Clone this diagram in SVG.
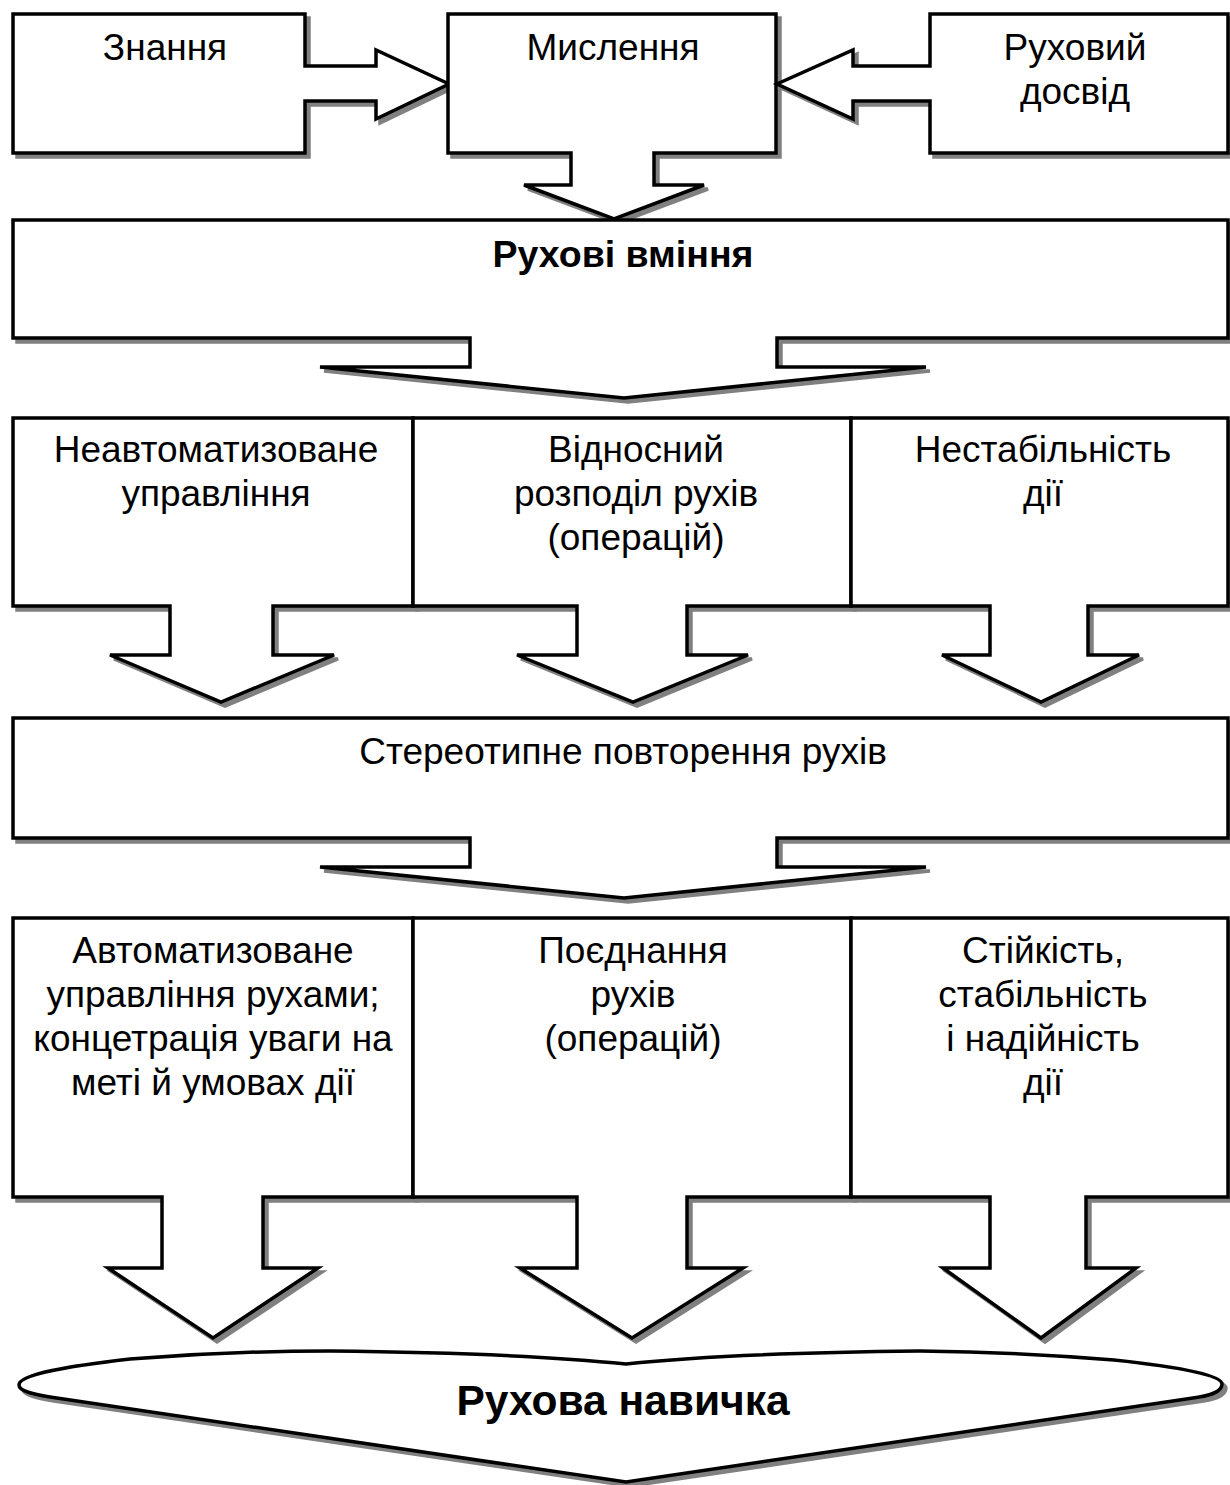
<svg xmlns="http://www.w3.org/2000/svg" width="1230" height="1485" viewBox="0 0 1230 1485">
  <defs>
    <style>
      .shape { fill: #ffffff; stroke: #000000; stroke-width: 3.5; stroke-linejoin: miter; }
      .shadow { fill: #808080; stroke: #808080; stroke-width: 3.5; }
      .t { font-family: "Liberation Sans", Arial, sans-serif; font-size: 37px; text-anchor: middle; fill: #000000; }
      .b { font-weight: bold; }
    </style>
    <!-- callout outlines, reused for shadow and face -->
    <path id="p-znannia" d="M13,14 H305 V66 H376 V50 L449,84 L376,119 V101 H305 V153 H13 Z"/>
    <path id="p-myslennia" d="M448,14 H776 V153 H654 V185 H704 L614,219 L524,185 H571 V153 H448 Z"/>
    <path id="p-dosvid" d="M930,14 H1228 V153 H930 V101 H853 V119 L777,84 L853,50 V66 H930 Z"/>
    <path id="p-vminnia" d="M13,220 H1228 V338 H777 V367 H926 L624,398 L320,367 H470 V338 H13 Z"/>
    <path id="p-r2a" d="M13,418 H413 V606 H273 V655 H334 L221,702 L110,655 H170 V606 H13 Z"/>
    <path id="p-r2b" d="M413,418 H851 V606 H687 V655 H748 L633,702 L517,655 H577 V606 H413 Z"/>
    <path id="p-r2c" d="M851,418 H1228 V606 H1088 V655 H1139 L1041,702 L942,655 H990 V606 H851 Z"/>
    <path id="p-stereo" d="M13,718 H1228 V838 H777 V867 H926 L624,898 L320,867 H470 V838 H13 Z"/>
    <path id="p-r4a" d="M13,918 H413 V1197 H263 V1268 H318 L213,1338 L108,1268 H162 V1197 H13 Z"/>
    <path id="p-r4b" d="M413,918 H851 V1197 H687 V1268 H743 L632,1338 L520,1268 H577 V1197 H413 Z"/>
    <path id="p-r4c" d="M851,918 H1228 V1197 H1086 V1268 H1136 L1041,1338 L943,1268 H990 V1197 H851 Z"/>
    <path id="p-navychka" d="M19,1385 C19,1374 70,1366 130,1359 Q230,1351 330,1351 Q520,1353 626,1364 Q730,1353 920,1351 Q1020,1352 1114,1360 C1180,1367 1222,1375 1222,1384 C1222,1393 1208,1396 1193,1398 L626,1482 L50,1397 C32,1394 19,1391 19,1385 Z"/>
  </defs>

  <g id="node-znannia">
    <use href="#p-znannia" class="shadow" transform="translate(4 4)"/>
    <use href="#p-znannia" class="shape"/>
    <text class="t" x="165" y="60">Знання</text>
  </g>

  <g id="node-myslennia">
    <use href="#p-myslennia" class="shadow" transform="translate(4 4)"/>
    <use href="#p-myslennia" class="shape"/>
    <text class="t" x="613" y="60">Мислення</text>
  </g>

  <g id="node-dosvid">
    <use href="#p-dosvid" class="shadow" transform="translate(4 4)"/>
    <use href="#p-dosvid" class="shape"/>
    <text class="t" x="1075" y="60">Руховий</text>
    <text class="t" x="1075" y="104">досвід</text>
  </g>

  <g id="node-vminnia">
    <use href="#p-vminnia" class="shadow" transform="translate(4 4)"/>
    <use href="#p-vminnia" class="shape"/>
    <text class="t b" x="623" y="267" style="font-size:37.5px">Рухові вміння</text>
  </g>

  <g id="node-neavtomat">
    <use href="#p-r2a" class="shadow" transform="translate(4 4)"/>
    <use href="#p-r2a" class="shape"/>
    <text class="t" x="216" y="462">Неавтоматизоване</text>
    <text class="t" x="216" y="506">управління</text>
  </g>

  <g id="node-rozpodil">
    <use href="#p-r2b" class="shadow" transform="translate(4 4)"/>
    <use href="#p-r2b" class="shape"/>
    <text class="t" x="636" y="462">Відносний</text>
    <text class="t" x="636" y="506">розподіл рухів</text>
    <text class="t" x="636" y="550">(операцій)</text>
  </g>

  <g id="node-nestabilnist">
    <use href="#p-r2c" class="shadow" transform="translate(4 4)"/>
    <use href="#p-r2c" class="shape"/>
    <text class="t" x="1043" y="462">Нестабільність</text>
    <text class="t" x="1043" y="506">дії</text>
  </g>

  <g id="node-stereotyp">
    <use href="#p-stereo" class="shadow" transform="translate(4 4)"/>
    <use href="#p-stereo" class="shape"/>
    <text class="t" x="623" y="764">Стереотипне повторення рухів</text>
  </g>

  <g id="node-avtomat">
    <use href="#p-r4a" class="shadow" transform="translate(4 4)"/>
    <use href="#p-r4a" class="shape"/>
    <text class="t" x="213" y="963">Автоматизоване</text>
    <text class="t" x="213" y="1007">управління рухами;</text>
    <text class="t" x="213" y="1051">концетрація уваги на</text>
    <text class="t" x="213" y="1095">меті й умовах дії</text>
  </g>

  <g id="node-poiednannia">
    <use href="#p-r4b" class="shadow" transform="translate(4 4)"/>
    <use href="#p-r4b" class="shape"/>
    <text class="t" x="633" y="963">Поєднання</text>
    <text class="t" x="633" y="1007">рухів</text>
    <text class="t" x="633" y="1051">(операцій)</text>
  </g>

  <g id="node-stiikist">
    <use href="#p-r4c" class="shadow" transform="translate(4 4)"/>
    <use href="#p-r4c" class="shape"/>
    <text class="t" x="1043" y="963">Стійкість,</text>
    <text class="t" x="1043" y="1007">стабільність</text>
    <text class="t" x="1043" y="1051">і надійність</text>
    <text class="t" x="1043" y="1095">дії</text>
  </g>

  <g id="node-navychka">
    <use href="#p-navychka" class="shadow" transform="translate(4 4)"/>
    <use href="#p-navychka" class="shape"/>
    <text class="t b" x="623" y="1415" style="font-size:42.5px">Рухова навичка</text>
  </g>

  <!-- the block arrows are part of each callout outline above -->
  <g id="connectors"></g>
</svg>
